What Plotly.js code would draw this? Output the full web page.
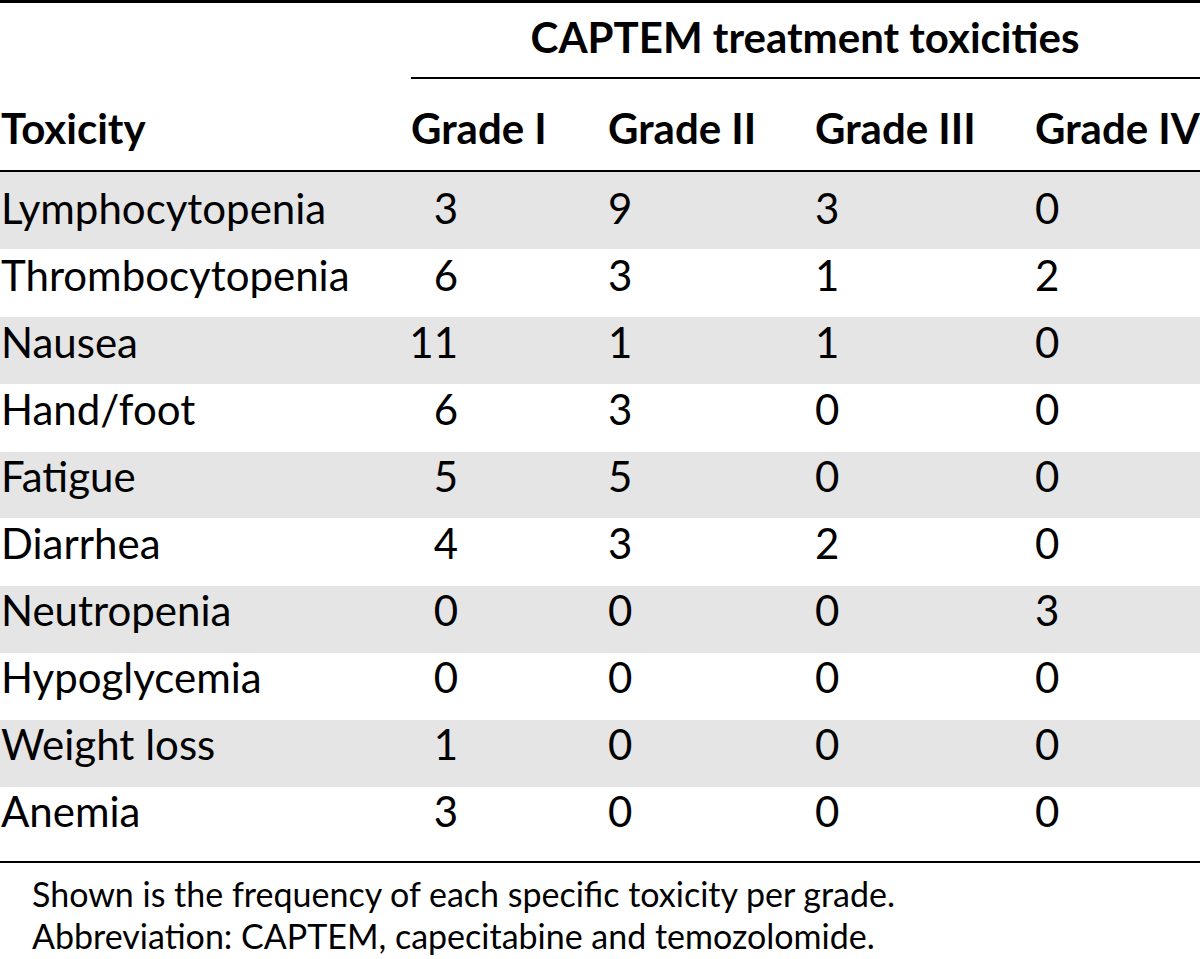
<!DOCTYPE html>
<html><head><meta charset="utf-8">
<script src="https://cdn.plot.ly/plotly-3.0.1.min.js"></script>
<style>html,body{margin:0;padding:0;background:#fff}</style>
</head><body><div id="chart" style="width:1200px;height:959px"></div>
<script>
// ---- data ----
const spanHeader = "CAPTEM treatment toxicities";
const rowHeader = "Toxicity";
const gradeLabels = ["Grade I", "Grade II", "Grade III", "Grade IV"];
const toxicities = ["Lymphocytopenia","Thrombocytopenia","Nausea","Hand/foot","Fatigue","Diarrhea","Neutropenia","Hypoglycemia","Weight loss","Anemia"];
const gradeI   = [3, 6, 11, 6, 5, 4, 0, 0, 1, 3];
const gradeII  = [9, 3, 1, 3, 5, 3, 0, 0, 0, 0];
const gradeIII = [3, 1, 1, 0, 0, 2, 0, 0, 0, 0];
const gradeIV  = [0, 2, 0, 0, 0, 0, 3, 0, 0, 0];
const footnotes = ["Shown is the frequency of each specific toxicity per grade.",
                   "Abbreviation: CAPTEM, capecitabine and temozolomide."];

// ---- layout geometry ----
const FONT = "Lato, 'Open Sans', sans-serif";
const BODY = 42, FOOT = 34;
const colX = [411, 608, 815, 1035];
const firstRowY = 213, rowStep = 67;
const rowY = toxicities.map((_, i) => firstRowY + i * rowStep);
const bandEdges = [172, 249, 317, 384, 452, 518, 586, 653, 720, 787, 862];

const traces = [];
// toxicity names
traces.push({x: toxicities.map(() => 1), y: rowY, text: toxicities, mode: "text",
  textposition: "middle right", textfont: {family: FONT, size: BODY, color: "#000"}, hoverinfo: "skip"});
// grade I column: right aligned
traces.push({x: gradeI.map(() => 458), y: rowY, text: gradeI.map(String), mode: "text",
  textposition: "middle left", textfont: {family: FONT, size: BODY, color: "#000"}, hoverinfo: "skip"});
[gradeII, gradeIII, gradeIV].forEach((arr, k) => {
  traces.push({x: arr.map(() => colX[k + 1]), y: rowY, text: arr.map(String), mode: "text",
    textposition: "middle right", textfont: {family: FONT, size: BODY, color: "#000"}, hoverinfo: "skip"});
});
// headers
traces.push({x: [1].concat(colX), y: [133, 133, 133, 133, 133], text: [rowHeader].concat(gradeLabels),
  mode: "text", textposition: "middle right", textfont: {family: FONT, size: BODY, color: "#000", weight: "bold"}, hoverinfo: "skip"});
traces.push({x: [805], y: [42], text: [spanHeader], mode: "text", textposition: "middle center",
  textfont: {family: FONT, size: BODY, color: "#000", weight: "bold"}, hoverinfo: "skip"});
// footnotes
traces.push({x: [32, 32], y: [898, 940], text: footnotes, mode: "text", textposition: "middle right",
  textfont: {family: FONT, size: FOOT, color: "#000"}, hoverinfo: "skip"});

const shapes = [];
for (let i = 0; i < toxicities.length; i += 2) {
  shapes.push({type: "rect", xref: "x", yref: "y", x0: 0, x1: 1200, y0: bandEdges[i], y1: bandEdges[i + 1],
    fillcolor: "#e5e5e5", line: {width: 0}, layer: "below"});
}
const hline = (y, x0, x1, w) => ({type: "line", xref: "x", yref: "y", x0: x0, x1: x1, y0: y, y1: y,
  line: {color: "#000", width: w}});
shapes.push(hline(1.5, 0, 1200, 3));
shapes.push(hline(78, 411, 1200, 2));
shapes.push(hline(171, 0, 1200, 2));
shapes.push(hline(862, 0, 1200, 2));

Plotly.newPlot("chart", traces, {
  width: 1200, height: 959, margin: {l: 0, r: 0, t: 0, b: 0},
  paper_bgcolor: "#fff", plot_bgcolor: "#fff", showlegend: false,
  xaxis: {range: [0, 1200], visible: false, fixedrange: true},
  yaxis: {range: [959, 0], visible: false, fixedrange: true},
  shapes: shapes
}, {staticPlot: true, displayModeBar: false});
</script></body></html>
